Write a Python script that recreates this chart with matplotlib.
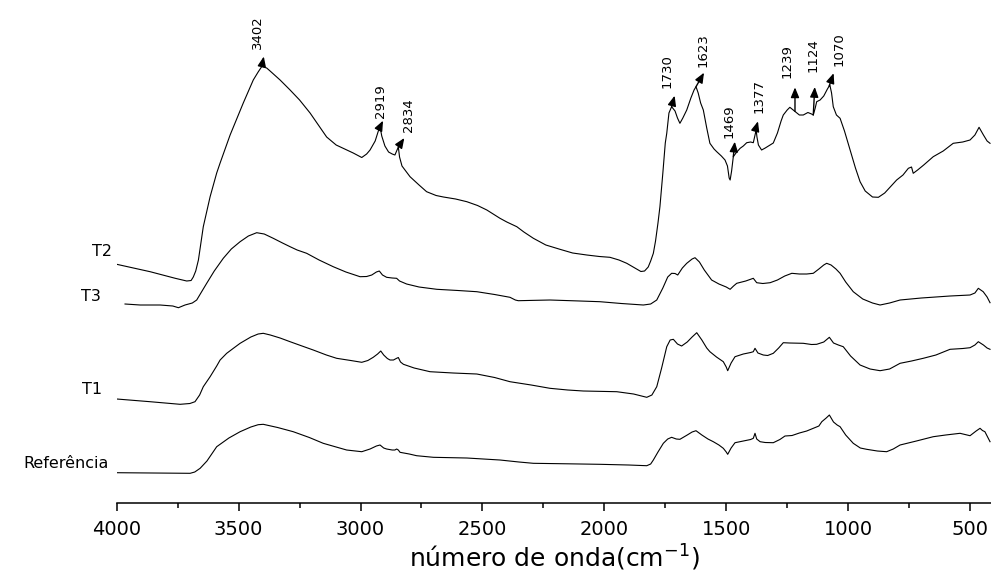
import numpy as np
import matplotlib
matplotlib.use('Agg')
import matplotlib.pyplot as plt

# espectros FTIR (numero de onda, intensidade em u.a.)
t2_wn = [4000, 3863, 3760, 3713, 3695, 3686, 3676, 3665, 3645, 3617, 3590, 3576, 3535, 3481,
         3440, 3420, 3405, 3385, 3371, 3330, 3289, 3250, 3207, 3170, 3139, 3100, 3071, 3030,
         2995, 2975, 2961, 2940, 2927, 2920, 2913, 2900, 2885, 2870, 2859, 2850, 2845, 2840,
         2830, 2797, 2760, 2729, 2690, 2660, 2610, 2564, 2520, 2482, 2428, 2400, 2359, 2330,
         2291, 2240, 2182, 2130, 2072, 2020, 1977, 1940, 1908, 1875, 1850, 1835, 1820, 1810,
         1799, 1790, 1780, 1772, 1760, 1750, 1744, 1735, 1724, 1710, 1700, 1690, 1678, 1662,
         1645, 1632, 1624, 1615, 1605, 1594, 1580, 1567, 1550, 1539, 1520, 1505, 1495, 1488,
         1484, 1478, 1471, 1460, 1443, 1430, 1416, 1400, 1389, 1380, 1378, 1374, 1368, 1355,
         1340, 1320, 1307, 1290, 1275, 1266, 1250, 1239, 1220, 1200, 1184, 1165, 1150, 1143,
         1135, 1129, 1115, 1100, 1085, 1075, 1068, 1061, 1048, 1033, 1015, 992, 970, 951,
         930, 900, 876, 850, 820, 801, 775, 753, 740, 733, 715, 690, 651, 610, 569, 530,
         500, 480, 463, 445, 430, 418]
t2_int = [238.7, 231.3, 224.7, 222.0, 222.5, 226.0, 232.0, 243.0, 276.3, 306.3, 330.0, 340.0,
          368.0, 400.0, 423.0, 431.0, 436.5, 435.0, 432.0, 423.0, 413.0, 403.0, 390.0, 377.0,
          366.0, 358.0, 354.7, 350.0, 345.5, 349.0, 353.0, 362.0, 372.0, 376.3, 367.0, 357.0,
          351.0, 349.0, 348.0, 353.0, 356.0, 346.0, 337.0, 326.3, 318.0, 311.3, 307.5, 306.0,
          304.0, 301.3, 297.5, 293.0, 284.7, 281.0, 276.3, 271.0, 264.7, 258.0, 253.7, 250.0,
          248.0, 246.5, 245.7, 243.0, 239.7, 235.0, 231.5, 232.0, 236.0, 242.0, 249.7, 262.0,
          280.0, 296.3, 330.0, 360.0, 369.7, 390.0, 396.3, 392.0, 385.0, 379.7, 385.0, 393.0,
          405.0, 413.0, 416.3, 410.0, 400.0, 393.0, 375.0, 359.7, 354.0, 351.3, 347.0, 343.0,
          337.0, 325.0, 323.0, 332.0, 346.3, 350.0, 354.7, 357.0, 360.3, 361.0, 360.3, 370.0,
          374.7, 366.0, 358.0, 353.0, 355.0, 358.0, 360.0, 370.0, 382.0, 388.0, 393.0, 395.7,
          392.0, 388.0, 388.0, 390.5, 389.0, 388.0, 395.0, 401.3, 403.0, 407.0, 414.0, 418.0,
          410.0, 396.3, 388.0, 384.7, 372.0, 353.0, 335.0, 321.3, 312.0, 306.0, 305.7, 310.0,
          318.0, 323.0, 328.0, 334.7, 336.0, 329.7, 333.0, 338.0, 346.3, 352.0, 359.7, 361.0,
          363.0, 368.0, 375.7, 368.0, 362.0, 359.7]

t3_wn = [3966, 3904, 3822, 3770, 3747, 3720, 3690, 3672, 3650, 3631, 3600, 3563, 3530, 3494,
         3460, 3426, 3395, 3358, 3320, 3289, 3260, 3221, 3170, 3112, 3060, 3002, 2975, 2954,
         2935, 2923, 2910, 2893, 2870, 2852, 2840, 2811, 2760, 2687, 2600, 2523, 2450, 2387,
         2365, 2353, 2300, 2223, 2100, 2018, 1930, 1840, 1810, 1785, 1760, 1740, 1724, 1710,
         1699, 1680, 1662, 1640, 1628, 1610, 1590, 1560, 1530, 1500, 1484, 1470, 1457, 1420,
         1389, 1375, 1350, 1320, 1290, 1260, 1231, 1200, 1170, 1143, 1120, 1100, 1088, 1070,
         1050, 1033, 1010, 979, 940, 900, 869, 830, 787, 700, 582, 500, 480, 466, 456, 446,
         430, 418]
t3_int = [199.0, 198.0, 198.0, 197.0, 195.3, 198.0, 200.0, 203.0, 212.0, 219.7, 232.0, 244.7,
          254.0, 261.3, 267.0, 270.3, 269.0, 264.7, 260.0, 256.3, 253.0, 249.7, 243.0, 236.3,
          231.0, 226.3, 226.5, 228.0, 231.0, 232.0, 228.0, 225.7, 225.0, 224.7, 222.0, 219.0,
          216.0, 213.7, 212.5, 211.3, 208.5, 205.7, 203.0, 202.3, 202.6, 203.0, 202.0, 201.3,
          199.5, 198.0, 199.0, 203.0, 215.0, 226.0, 229.7, 229.5, 228.0, 235.0, 239.7, 244.0,
          245.3, 241.0, 233.0, 223.0, 219.0, 216.0, 213.7, 217.0, 219.7, 222.0, 224.7, 220.3,
          219.5, 220.3, 223.0, 227.0, 229.7, 229.0, 229.0, 229.7, 234.0, 238.0, 239.7, 238.0,
          234.0, 229.7, 221.0, 211.3, 204.0, 200.0, 198.0, 200.0, 203.0, 205.0, 207.0, 208.0,
          210.0, 214.7, 213.0, 211.3, 206.0, 200.3]

t1_wn = [4000, 3863, 3740, 3700, 3679, 3660, 3645, 3617, 3590, 3576, 3549, 3520, 3494, 3450,
         3420, 3399, 3370, 3330, 3289, 3240, 3194, 3140, 3098, 3040, 2995, 2970, 2948, 2930,
         2917, 2905, 2890, 2879, 2865, 2852, 2845, 2836, 2824, 2780, 2715, 2620, 2523, 2450,
         2387, 2300, 2223, 2150, 2086, 1949, 1880, 1826, 1805, 1785, 1765, 1744, 1730, 1717,
         1700, 1683, 1660, 1640, 1621, 1600, 1580, 1567, 1540, 1512, 1500, 1494, 1480, 1464,
         1430, 1400, 1389, 1382, 1370, 1348, 1330, 1307, 1285, 1266, 1240, 1184, 1150, 1129,
         1100, 1077, 1060, 1040, 1020, 990, 951, 910, 869, 830, 787, 740, 692, 640, 582, 530,
         500, 480, 466, 445, 430, 418]
t1_int = [104.0, 101.3, 98.7, 99.5, 101.3, 108.0, 116.3, 126.3, 137.0, 143.0, 149.7, 155.0,
          159.7, 166.0, 169.0, 169.7, 168.0, 165.0, 161.3, 157.0, 153.0, 148.0, 144.7, 142.5,
          140.7, 142.5, 145.7, 149.0, 152.0, 148.0, 144.5, 143.0, 143.0, 144.7, 145.5, 141.0,
          138.7, 135.0, 131.3, 130.0, 129.0, 125.5, 121.3, 118.0, 114.7, 113.0, 112.0, 111.3,
          109.0, 105.7, 108.0, 116.3, 135.0, 156.3, 163.0, 163.7, 159.0, 157.0, 161.0, 166.0,
          170.3, 163.0, 155.0, 151.3, 146.0, 141.3, 136.0, 132.3, 140.0, 146.3, 149.0, 150.5,
          151.3, 154.7, 150.0, 148.0, 147.5, 149.7, 155.0, 160.3, 160.0, 159.7, 158.5, 158.7,
          161.0, 165.7, 160.0, 158.0, 156.3, 147.0, 138.0, 134.0, 132.3, 134.0, 139.7, 142.0,
          144.7, 148.0, 153.7, 154.5, 155.3, 158.0, 161.3, 158.0, 155.0, 153.7]

ref_wn = [4000, 3850, 3699, 3680, 3658, 3630, 3590, 3540, 3494, 3450, 3420, 3399, 3340, 3276,
          3210, 3153, 3100, 3057, 2995, 2961, 2935, 2920, 2905, 2893, 2870, 2859, 2852, 2845,
          2838, 2800, 2770, 2701, 2564, 2428, 2350, 2291, 2150, 2018, 1900, 1826, 1810, 1799,
          1780, 1758, 1740, 1724, 1705, 1690, 1660, 1640, 1624, 1600, 1575, 1553, 1530, 1512,
          1500, 1494, 1480, 1464, 1430, 1400, 1389, 1382, 1375, 1361, 1340, 1307, 1280, 1259,
          1230, 1200, 1170, 1143, 1120, 1108, 1090, 1077, 1060, 1045, 1033, 1010, 979, 950,
          924, 880, 842, 815, 787, 720, 651, 600, 541, 500, 475, 459, 449, 439, 418]
ref_int = [30.3, 30.0, 29.7, 31.0, 34.7, 42.0, 56.3, 65.0, 71.3, 76.0, 78.3, 78.7, 75.5, 71.3,
           65.5, 59.7, 56.0, 53.0, 51.3, 54.0, 57.0, 58.0, 55.0, 54.0, 53.0, 53.0, 54.0, 53.0,
           50.7, 49.0, 47.3, 45.7, 45.0, 43.0, 41.0, 39.7, 39.2, 38.7, 38.0, 37.3, 39.0, 43.0,
           51.0, 59.7, 64.0, 65.7, 64.0, 63.7, 68.0, 71.0, 72.3, 68.0, 64.0, 61.3, 58.0, 54.7,
           51.0, 48.7, 55.0, 60.3, 62.0, 63.5, 64.7, 69.7, 64.0, 61.3, 60.5, 60.3, 63.5, 67.0,
           67.5, 70.0, 72.0, 74.7, 77.0, 81.3, 85.0, 88.0, 81.0, 78.0, 76.3, 68.0, 59.7, 55.0,
           53.7, 52.0, 51.3, 54.0, 58.0, 62.0, 66.3, 68.0, 69.7, 67.3, 72.0, 74.7, 72.5, 71.3,
           61.3]

names = ['T2', 'T3', 'T1', 'Referência']
picos = ['3402', '2919', '2834', '1730', '1623', '1469', '1377', '1239', '1124', '1070']
picos_wn = [3405, 2920, 2845, 1724, 1624, 1471, 1378, 1218, 1143, 1078]

plt.rcParams['font.family'] = ['DejaVu Sans']

fig = plt.figure(figsize=(9.91, 5.75), dpi=100)
ax = fig.add_axes([0.1178, 0.1252, 0.8822, 0.8748])
ax.set_xlim(4000, 414)
ax.set_ylim(0, 503)

series = [(t2_wn, t2_int), (t3_wn, t3_int), (t1_wn, t1_int), (ref_wn, ref_int)]
for wn, val in series:
    ax.plot(wn, val, color='black', lw=0.8)

# nomes das amostras a esquerda
name_offsets = [(-5, 13), (-24, 8), (-15, 10), (-8, 9)]
for (wn, val), name, off in zip(series, names, name_offsets):
    ax.annotate(name, xy=(wn[0], val[0]), xytext=off, textcoords='offset pixels',
                ha='right', va='center', fontsize=11.5, annotation_clip=False)

# setas e numeros dos picos na curva T2
head_offsets = [(2, 10), (3, 6), (6, 9), (3, 11), (8, 14), (1.5, 15), (2, 7), (0, 24), (1.5, 28), (4.5, 13)]
text_offsets = [(-4, 18), (0, 9), (10, 15), (-5, 19), (7.5, 20), (-4, 19), (3.5, 15), (-7.5, 33), (0, 43), (10, 20)]
t2_wn_inc = np.array(t2_wn[::-1])
t2_int_inc = np.array(t2_int[::-1])
for lab, w, hoff, toff in zip(picos, picos_wn, head_offsets, text_offsets):
    y = np.interp(w, t2_wn_inc, t2_int_inc)
    px = ax.transData.transform((w, y))
    tip = ax.transData.inverted().transform(px + np.array(hoff))
    ax.annotate('', xy=tip, xytext=(w, y),
                arrowprops=dict(arrowstyle='-|>,head_length=0.6,head_width=0.25',
                                mutation_scale=10, color='black', lw=1.0,
                                shrinkA=0, shrinkB=0))
    ax.annotate(lab, xy=(w, y), xytext=toff, textcoords='offset pixels',
                rotation=90, ha='center', va='bottom', fontsize=9.5)

ax.set_xticks([4000, 3500, 3000, 2500, 2000, 1500, 1000, 500])
ax.set_xticks(np.arange(3750, 400, -500), minor=True)
ax.tick_params(axis='x', which='major', length=6, width=1.1, labelsize=14, pad=6)
ax.tick_params(axis='x', which='minor', length=3.5, width=1.1)
ax.set_yticks([])
for side in ['left', 'right', 'top']:
    ax.spines[side].set_visible(False)
ax.spines['bottom'].set_linewidth(1.1)
ax.set_xlabel('número de onda(cm$^{-1}$)', fontsize=18, labelpad=3)

fig.savefig('out.png', dpi=100)
